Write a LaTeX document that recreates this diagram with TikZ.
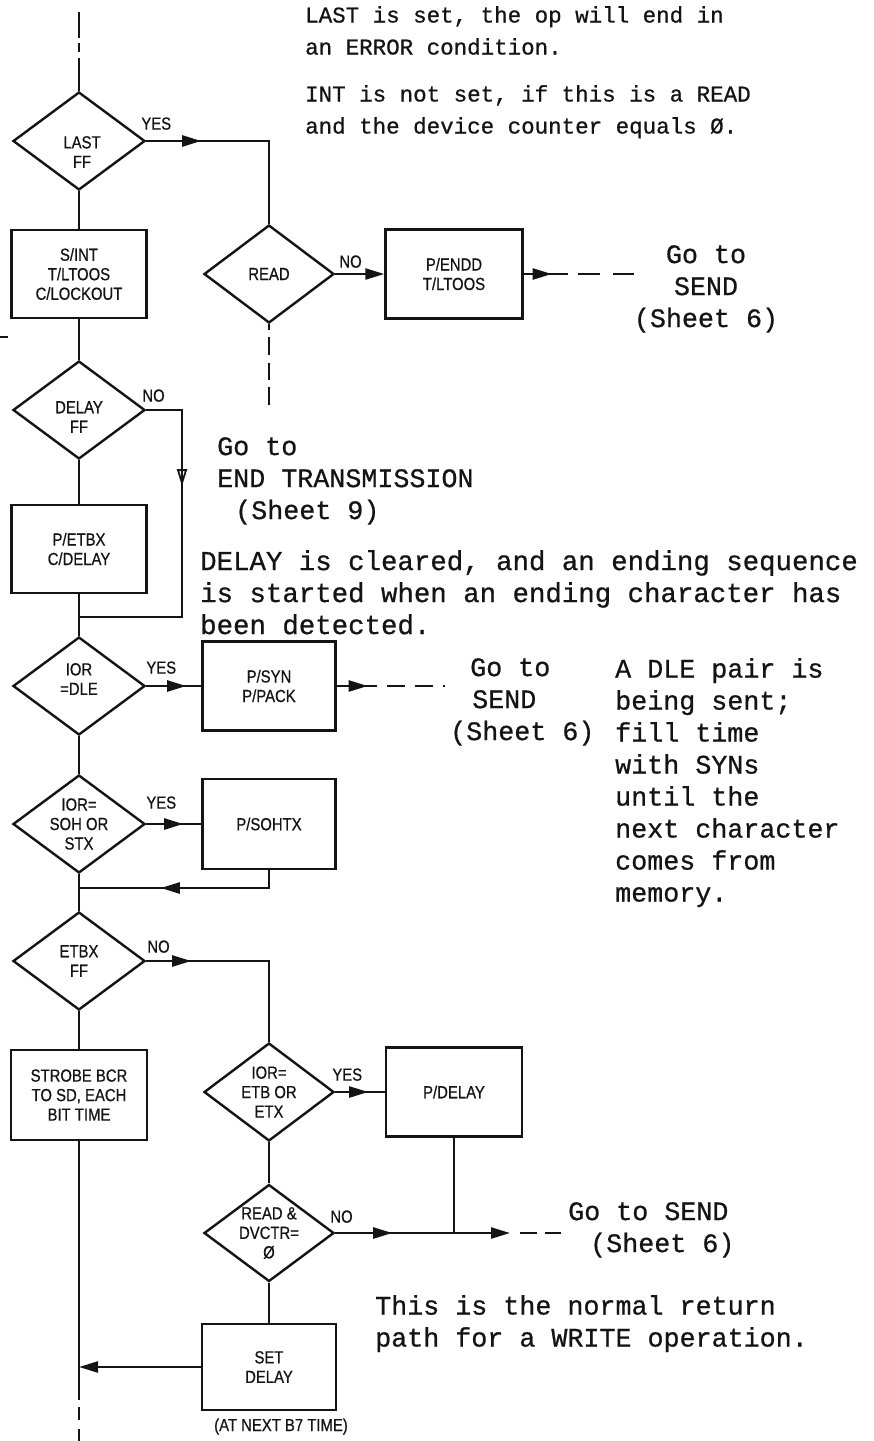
\documentclass[tikz,border=0pt]{standalone}
\usepackage{fontspec}
\usepackage{tikz}
\usetikzlibrary{positioning,arrows.meta,calc,shapes.geometric,decorations.markings}
\newfontfamily\lettering[FakeStretch=0.85,FakeBold=0.6]{Liberation Sans}
\newfontfamily\typed[FakeBold=0.7]{Liberation Mono}
\newcommand\boxtype{\lettering\fontsize{17.5}{19.5}\selectfont}
\newcommand\bigtyped{\typed\fontsize{26.7}{32}\selectfont}
\newcommand\smalltyped{\typed\fontsize{22.5}{32}\selectfont}
\definecolor{ink}{RGB}{20,20,20}
\tikzset{
  link/.style={draw=ink, line width=2.4pt},
  box/.style={draw=ink, line width=2.4pt, rectangle, align=center, inner sep=0pt, minimum width=135pt, minimum height=88pt, font=\boxtype, text=ink},
  decision/.style={draw=ink, line width=2.4pt, diamond, aspect=1.35, align=center, inner sep=0pt, minimum width=132pt, minimum height=98pt, font=\boxtype, text=ink},
  inlabel/.style={font=\boxtype, align=center, inner sep=0pt, text=ink},
  flag/.style={font=\boxtype, inner sep=0pt, text=ink},
  note/.style={font=\bigtyped, align=left, inner sep=0pt, anchor=north west, text=ink},
  tip/.style={-{Triangle[length=19pt,width=11pt]}},
  flow/.style={postaction={decorate, decoration={markings, mark=at position #1 with {\arrow{Triangle[length=19pt,width=11pt]}}}}},
  hollow/.style={postaction={decorate, decoration={markings, mark=at position #1 with {\arrow{Triangle[open,length=17pt,width=10pt,line width=1.8pt]}}}}}
}

\begin{document}
\begin{tikzpicture}[x=1pt,y=-1pt]
    \fill[white] (0,0) rectangle (874,1441);
    \useasboundingbox (0,0) rectangle (874,1441);

    % main column
    \node[decision, label={[inlabel, yshift=-11pt, xshift=3pt]center:LAST\\FF}] (last) at (79,141) {};
    \node[box] (sint) at (79,274) {S/INT\\T/LTOOS\\C/LOCKOUT};
    \node[decision, label={[inlabel, yshift=-7pt]center:DELAY\\FF}] (delay) at (79,410) {};
    \node[box] (etbx) at (79,549) {P/ETBX\\C/DELAY};
    \node[decision, label={[inlabel, yshift=7pt]center:IOR\\=DLE}] (dle) at (79,686) {};
    \node[decision] (soh) at (79,824) {IOR=\\SOH OR\\STX};
    \node[decision] (etbxff) at (79,961) {ETBX\\FF};
    \node[box, minimum width=136pt, minimum height=90pt] (strobe) at (79,1095) {STROBE BCR\\TO SD, EACH\\BIT TIME};

    % right columns
    \node[decision, minimum width=130pt] (read) at (269,274) {READ};
    \node[box, minimum width=137pt, minimum height=89pt] (endd) at (454,274) {P/ENDD\\T/LTOOS};
    \node[box, minimum width=133pt, minimum height=89pt] (syn) at (269,686) {P/SYN\\P/PACK};
    \node[box, minimum width=133pt, minimum height=90pt] (sohtx) at (269,824) {P/SOHTX};
    \node[decision, minimum width=130pt] (etb) at (269,1092) {IOR=\\ETB OR\\ETX};
    \node[box, minimum width=136pt, minimum height=89pt] (pdelay) at (454,1092) {P/DELAY};
    \node[decision, minimum width=130pt, minimum height=97pt] (readdv) at (269,1233) {READ \&\\DVCTR=\\Ø};
    \node[box, minimum width=134pt, minimum height=86pt] (setdelay) at (269,1367) {SET\\DELAY};
    \node[flag, below=7pt of setdelay, xshift=12pt] (b7) {(AT NEXT B7 TIME)};

    % yes / no
    \node[flag, anchor=south west] (lastyes) at ($(last.east)+(-5,-11)$) {YES};
    \node[flag, anchor=south west] (readno) at ($(read.east)+(4,-6)$) {NO};
    \node[flag, anchor=south west] (delayno) at ($(delay.east)+(-4,-8)$) {NO};
    \node[flag, anchor=south west] (dleyes) at ($(dle.east)+(0,-12)$) {YES};
    \node[flag, anchor=south west] (sohyes) at ($(soh.east)+(0,-15)$) {YES};
    \node[flag, anchor=south west] (etbxno) at ($(etbxff.east)+(1,-8)$) {NO};
    \node[flag, anchor=south west] (etbyes) at ($(etb.east)+(-3,-11)$) {YES};
    \node[flag, anchor=south west] (readdvno) at ($(readdv.east)+(-5,-10)$) {NO};

    % notes
    \node[note, font=\smalltyped] (lastnote) at (305,6) {LAST is set, the op will end in\\an ERROR condition.};
    \node[note, font=\smalltyped] (intnote) at (305,85) {INT is not set, if this is a READ\\and the device counter equals Ø.};
    \node[note, align=center, anchor=north] (send1) at (706,245) {Go to\\SEND\\(Sheet 6)};
    \node[note] (endtx) at (217,437) {Go to\\END TRANSMISSION\\\hspace*{18pt}(Sheet 9)};
    \node[note, font=\typed\fontsize{27.4}{32}\selectfont] (delaynote) at (200,550) {DELAY is cleared, and an ending sequence\\is started when an ending character has\\been detected.};
    \node[note] (send2) at (450,658) {\hspace*{20pt}Go to\\\hspace*{22pt}SEND\\(Sheet 6)};
    \node[note] (dlenote) at (615,658) {A DLE pair is\\being sent;\\fill time\\with SYNs\\until the\\next character\\comes from\\memory.};
    \node[note] (send3) at (568,1202) {Go to SEND\\\hspace*{22pt}(Sheet 6)};
    \node[note] (writenote) at (375,1295) {This is the normal return\\path for a WRITE operation.};

    % junctions
    \coordinate (top) at (79,12);
    \coordinate (readout) at (269,405);
    \coordinate (enddout) at (568,274);
    \coordinate (j1r) at (182,617);
    \coordinate (j1) at (79,617);
    \coordinate (synout) at (377,686);
    \coordinate (j2) at (79,888);
    \coordinate (j3) at (pdelay.south |- readdv.east);
    \coordinate (readdvout) at (510,1233);
    \coordinate (j4) at (strobe.south |- setdelay.west);
    \coordinate (bottom) at (79,1400);
    \coordinate (end) at (79,1441);

    % main line
    \draw[link, dash pattern=on 26pt off 5pt on 9pt off 6pt on 40pt] (top) -- (last.north);
    \draw[link] (last.south) -- (sint.north);
    \draw[link] (sint.south) -- (delay.north);
    \draw[link] (delay.south) -- (etbx.north);
    \draw[link] (etbx.south) -- (dle.north);
    \draw[link] (dle.south) -- (soh.north);
    \draw[link] (soh.south) -- (etbxff.north);
    \draw[link] (etbxff.south) -- (strobe.north);
    \draw[link] (strobe.south) -- (bottom);
    \draw[link, dash pattern=on 13pt off 9pt] ([yshift=-7pt]bottom) -- (end);
    \draw[link] (0,337) -- (8,337);

    % branches
    \draw[link, flow=55pt] (last.east) -| (read.north);
    \draw[link, dash pattern=on 6pt off 7pt on 18pt off 8pt on 17pt off 7pt on 18pt] (read.south) -- (readout);
    \draw[link, tip] (read.east) -- (endd.west);
    \draw[link, flow=28pt] (endd.east) -- (enddout);
    \draw[link, dash pattern=on 22pt off 13pt] ([xshift=10pt]enddout) -- (send1.west |- enddout);
    \draw[link, hollow=112pt] (delay.east) -| (j1r) -- (j1);
    \draw[link, flow=40pt] (dle.east) -- (syn.west);
    \draw[link, flow=31pt] (syn.east) -- (synout);
    \draw[link, dash pattern=on 18pt off 10pt, shorten >=5pt] ([xshift=10pt]synout) -- (send2.west |- synout);
    \draw[link, flow=37pt] (soh.east) -- (sohtx.west);
    \draw[link, flow=126pt] (sohtx.south) |- (j2);
    \draw[link, flow=45pt] (etbxff.east) -| (etb.north);
    \draw[link, flow=33pt] (etb.east) -- (pdelay.west);
    \draw[link] (etb.south) -- (readdv.north);
    \draw[link] (pdelay.south) -- (j3);
    \draw[link, flow=57pt, tip] (readdv.east) -- (readdvout);
    \draw[link, dash pattern=on 17pt off 8pt, shorten >=7pt] ([xshift=10pt]readdvout) -- (send3.west |- readdvout);
    \draw[link] (readdv.south) -- (setdelay.north);
    \draw[link, tip] (setdelay.west) -- (j4);
\end{tikzpicture}
\end{document}
